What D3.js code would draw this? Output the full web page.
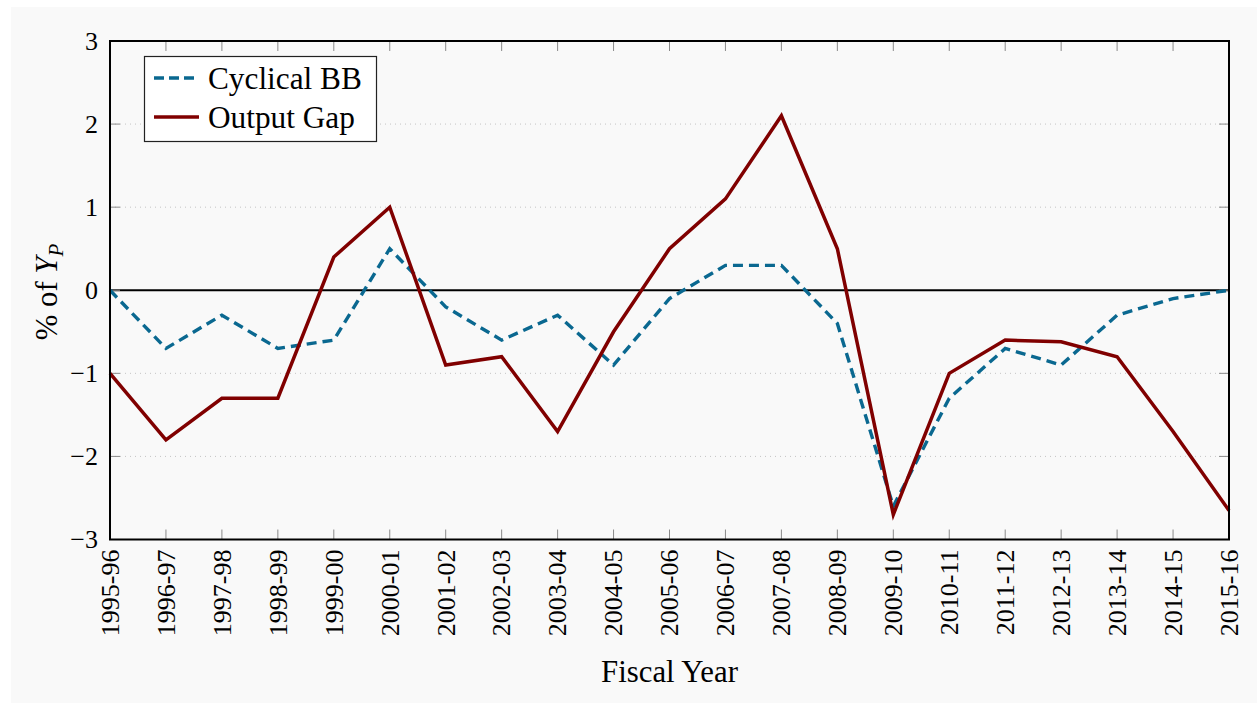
<!DOCTYPE html>
<html>
<head>
<meta charset="utf-8">
<script src="https://cdn.jsdelivr.net/npm/d3@7"></script>
<style>
  html, body { margin: 0; padding: 0; background: #ffffff; }
  svg { display: block; }
  svg text { font-family: "Liberation Serif", "Tinos", "Times New Roman", "DejaVu Serif", serif; fill: #000; }
</style>
</head>
<body>
<svg id="chart" width="1257" height="703"></svg>
<script>
// Fiscal years on the x axis
const categories = ["1995-96","1996-97","1997-98","1998-99","1999-00","2000-01","2001-02",
  "2002-03","2003-04","2004-05","2005-06","2006-07","2007-08","2008-09","2009-10",
  "2010-11","2011-12","2012-13","2013-14","2014-15","2015-16"];

// Cyclical budget balance, % of potential output
const cyclicalBB = [0, -0.7, -0.3, -0.7, -0.6, 0.5, -0.2, -0.6, -0.3, -0.9, -0.1,
  0.3, 0.3, -0.4, -2.6, -1.3, -0.7, -0.9, -0.3, -0.1, 0];

// Output gap, % of potential output
const outputGap = [-1.0, -1.8, -1.3, -1.3, 0.4, 1.0, -0.9, -0.8, -1.7, -0.5, 0.5,
  1.1, 2.1, 0.5, -2.7, -1.0, -0.6, -0.62, -0.8, -1.7, -2.65];

const yTicks = [-3, -2, -1, 0, 1, 2, 3];
const seriesNames = ["Cyclical BB", "Output Gap"];

const svg = d3.select("#chart");
const W = 1257, H = 703;
const plot = { left: 110, right: 1229, top: 41, bottom: 539.5 };
const serif = "'Liberation Serif', Tinos, 'Times New Roman', 'DejaVu Serif', serif";

const blue = "#0a6890";
const red = "#800000";

// panel background
svg.append("rect").attr("x", 11).attr("y", 7).attr("width", W - 11).attr("height", H - 7)
  .attr("fill", "#f9f9f9");

const x = d3.scalePoint().domain(categories).range([plot.left, plot.right]);
const y = d3.scaleLinear().domain([-3, 3]).range([plot.bottom, plot.top]);

// dotted horizontal grid
svg.append("g").selectAll("line")
  .data(yTicks.filter(t => t !== 0 && Math.abs(t) !== 3))
  .join("line")
  .attr("x1", plot.left).attr("x2", plot.right)
  .attr("y1", d => y(d)).attr("y2", d => y(d))
  .attr("stroke", "#c4c4c4").attr("stroke-width", 1)
  .attr("stroke-dasharray", "1,4");

// zero line
svg.append("line")
  .attr("x1", plot.left).attr("x2", plot.right)
  .attr("y1", y(0)).attr("y2", y(0))
  .attr("stroke", "#000").attr("stroke-width", 2);

// inward ticks on all four sides
const tickLen = 10;
const ticksG = svg.append("g").attr("stroke", "#8a8a8a").attr("stroke-width", 1);
categories.forEach(c => {
  ticksG.append("line").attr("x1", x(c)).attr("x2", x(c))
    .attr("y1", plot.bottom).attr("y2", plot.bottom - tickLen);
  ticksG.append("line").attr("x1", x(c)).attr("x2", x(c))
    .attr("y1", plot.top).attr("y2", plot.top + tickLen);
});
yTicks.forEach(t => {
  ticksG.append("line").attr("x1", plot.left).attr("x2", plot.left + tickLen)
    .attr("y1", y(t)).attr("y2", y(t));
  ticksG.append("line").attr("x1", plot.right).attr("x2", plot.right - tickLen)
    .attr("y1", y(t)).attr("y2", y(t));
});

// y tick labels
const fmt = d => (d < 0 ? "\u2212" + Math.abs(d) : String(d));
svg.append("g").selectAll("text").data(yTicks).join("text")
  .attr("x", plot.left - 12)
  .attr("y", d => y(d))
  .attr("dy", "0.34em")
  .attr("text-anchor", "end")
  .attr("font-family", serif)
  .attr("font-size", 26)
  .text(fmt);

// x tick labels, rotated
svg.append("g").selectAll("text").data(categories).join("text")
  .attr("transform", d => `translate(${x(d)},${plot.bottom + 10}) rotate(-90)`)
  .attr("text-anchor", "end")
  .attr("dy", "0.34em")
  .attr("font-family", serif)
  .attr("font-size", 26)
  .text(d => d);

// series lines
const line = d3.line()
  .x((d, i) => x(categories[i]))
  .y(d => y(d));

svg.append("path").datum(cyclicalBB)
  .attr("d", line)
  .attr("fill", "none")
  .attr("stroke", blue)
  .attr("stroke-width", 3.4)
  .attr("stroke-dasharray", "10,6")
  .attr("stroke-linejoin", "miter");

svg.append("path").datum(outputGap)
  .attr("d", line)
  .attr("fill", "none")
  .attr("stroke", red)
  .attr("stroke-width", 3.5)
  .attr("stroke-linejoin", "miter");

// frame
svg.append("rect")
  .attr("x", plot.left).attr("y", plot.top)
  .attr("width", plot.right - plot.left).attr("height", plot.bottom - plot.top)
  .attr("fill", "none").attr("stroke", "#000").attr("stroke-width", 2);

// legend
const lg = svg.append("g");
lg.append("rect").attr("x", 144.5).attr("y", 56.5).attr("width", 232).attr("height", 85)
  .attr("fill", "#fff").attr("stroke", "#222").attr("stroke-width", 1.2);
const legendItems = [
  { name: seriesNames[0], color: blue, dash: "10,5", y: 78 },
  { name: seriesNames[1], color: red, dash: null, y: 117 }
];
legendItems.forEach(it => {
  lg.append("line").attr("x1", 154).attr("x2", 199)
    .attr("y1", it.y).attr("y2", it.y)
    .attr("stroke", it.color).attr("stroke-width", 3.4)
    .attr("stroke-dasharray", it.dash);
  lg.append("text").attr("x", 208).attr("y", it.y).attr("dy", "0.34em")
    .attr("font-family", serif)
    .attr("font-size", 31.3).text(it.name);
});

// axis titles
svg.append("text")
  .attr("x", (plot.left + plot.right) / 2).attr("y", 682)
  .attr("text-anchor", "middle")
  .attr("font-family", serif)
  .attr("font-size", 30.8)
  .text("Fiscal Year");

const yt = svg.append("text")
  .attr("transform", `translate(57,292) rotate(-90)`)
  .attr("text-anchor", "middle")
  .attr("font-family", serif)
  .attr("font-size", 30.8);
yt.append("tspan").text("% of ");
yt.append("tspan").attr("font-style", "italic").text("Y");
yt.append("tspan").attr("font-style", "italic").attr("font-size", 21).attr("dy", 6).text("P");
</script>
</body>
</html>
